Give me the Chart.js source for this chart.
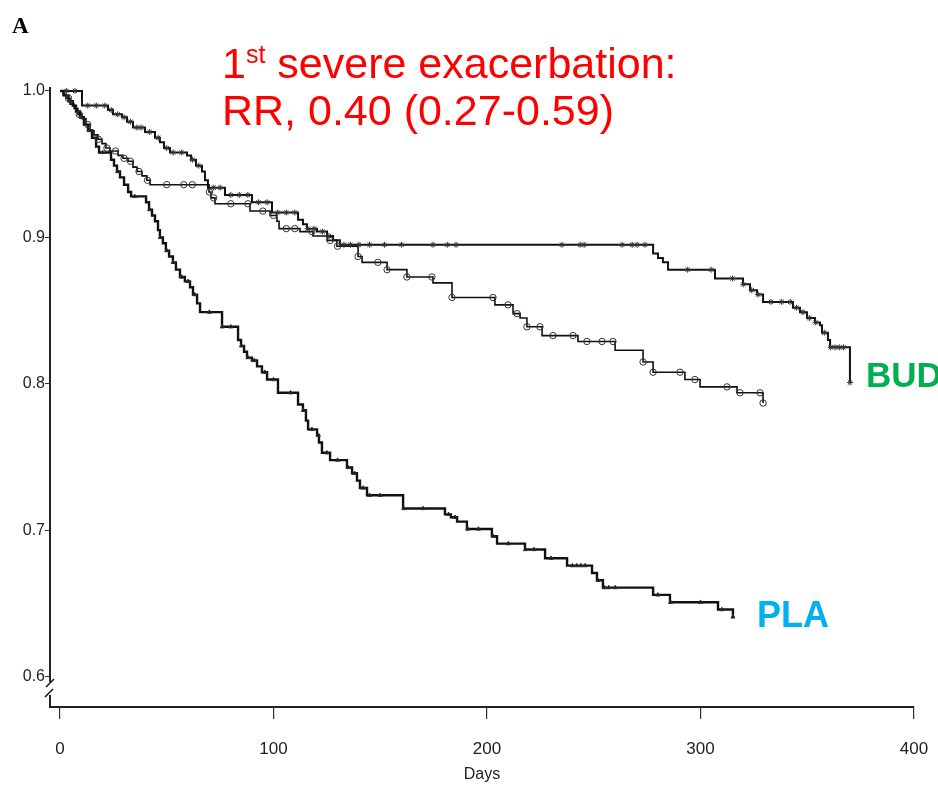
<!DOCTYPE html>
<html>
<head>
<meta charset="utf-8">
<script src="https://cdn.jsdelivr.net/npm/chart.js@4.4.1/dist/chart.umd.min.js"></script>
<style>
  body { margin: 0; background: #fff; }
  #wrap { position: relative; width: 938px; height: 786px; }
  .note { position: absolute; white-space: nowrap; font-family: "Liberation Sans", Arial, sans-serif; }
  .red { color: #ff0000; font-size: 43px; line-height: 49px; }
  .red sup { font-size: 25px; vertical-align: 15px; line-height: 0; }
  .grp { font-weight: bold; }
</style>
</head>
<body>
<div id="wrap">
  <canvas id="km" width="938" height="786"></canvas>
  <div class="note" style="left:12px; top:14px; font-family:'Liberation Serif',serif; font-weight:bold; font-size:23px; line-height:23px;">A</div>
  <div class="note red" style="left:222px; top:39px;">1<sup>st</sup> severe exacerbation:</div>
  <div class="note red" style="left:222px; top:86px;">RR, 0.40 (0.27-0.59)</div>
  <div class="note grp" style="left:866px; top:357px; font-size:35px; line-height:35px; color:#00b050;">BUD</div>
  <div class="note grp" style="left:757px; top:597px; font-size:36px; line-height:36px; color:#00b0f0;">PLA</div>
</div>
<script>
// tick values
const xTicks = [0, 100, 200, 300, 400];
const yTicks = [0.6, 0.7, 0.8, 0.9, 1.0];

// BUD (stars): day of each event and survival after it
const budStarDays = [10.3, 22.5, 24.8, 29.0, 31.4, 34.2, 39.8, 44.5, 46.8, 48.7, 51.5, 59.5, 61.4, 63.7, 66.5, 67.9, 69.3, 77.3, 89.9, 99.3, 111.5, 113.8, 115.7, 120.4, 125.1, 127.9, 131.1, 277.8, 280.1, 282.4, 284.8, 306.8, 319.9, 323.2, 326.5, 329.3, 343.3, 346.6, 349.9, 353.6, 356.0, 356.9, 359.7, 360.7, 370.0];
const budStarSurv = [0.990, 0.987, 0.984, 0.982, 0.979, 0.975, 0.972, 0.968, 0.965, 0.961, 0.958, 0.956, 0.953, 0.949, 0.945, 0.939, 0.934, 0.929, 0.924, 0.917, 0.912, 0.909, 0.906, 0.904, 0.901, 0.898, 0.895, 0.889, 0.886, 0.883, 0.878, 0.872, 0.868, 0.864, 0.861, 0.856, 0.852, 0.849, 0.845, 0.842, 0.840, 0.835, 0.830, 0.825, 0.801];
const budStarCens = [3, 7, 13, 17, 21, 24, 27, 30, 33, 36, 38, 42, 46, 50, 53, 57, 62, 65, 72, 75, 80, 84, 88, 93, 97, 102, 106, 110, 116, 119, 123, 126, 133, 136, 140, 145, 152, 160, 174.7, 181.4, 185.5, 235.1, 243.6, 245.5, 263.3, 268.0, 270.3, 274.0, 294, 305, 315, 320, 324, 327, 333, 338, 342, 345, 348, 351, 354, 358, 361, 363, 365, 367, 370];

// BUD (circles)
const budCircDays = [1.4, 2.8, 4.7, 6.6, 8.4, 10.3, 12.2, 14.1, 15.9, 17.8, 19.7, 21.5, 23.4, 27.2, 29.5, 31.9, 34.2, 36.1, 38.4, 40.7, 42.2, 69.8, 70.7, 72.6, 89.0, 98.4, 101.6, 102.6, 112.4, 118.5, 125.1, 129.7, 139.6, 141.5, 153.2, 162.5, 174.7, 183.6, 203.7, 212.2, 215.5, 218.7, 225.8, 242.6, 260.0, 273.1, 277.8, 292.7, 299.8, 317.1, 329.3];
const budCircSurv = [0.997, 0.995, 0.991, 0.988, 0.984, 0.981, 0.977, 0.973, 0.970, 0.967, 0.964, 0.961, 0.959, 0.956, 0.954, 0.952, 0.948, 0.945, 0.942, 0.939, 0.936, 0.931, 0.927, 0.923, 0.918, 0.915, 0.911, 0.906, 0.904, 0.901, 0.898, 0.894, 0.887, 0.883, 0.878, 0.873, 0.869, 0.859, 0.854, 0.848, 0.845, 0.839, 0.833, 0.829, 0.823, 0.815, 0.808, 0.803, 0.798, 0.794, 0.787];
const budCircCens = [4, 9, 13, 18, 22, 26, 30, 33, 37, 41, 50, 58, 62, 70, 72, 80, 88, 95, 100, 106, 110, 118, 126.5, 130, 139.6, 148.9, 153.2, 162.5, 174.2, 183.6, 202.8, 209.8, 214.1, 218.7, 224.8, 230.9, 240.3, 246.8, 253.9, 259.0, 273.1, 277.8, 290.4, 297.4, 312.4, 318.5, 327.9, 329.3];

// PLA
const plaDays = [2, 4, 6, 7.5, 9.4, 11.2, 13.1, 15.0, 16.9, 18.3, 23.9, 25.3, 26.7, 28.1, 30.0, 31.9, 33.3, 40.3, 41.7, 43.1, 44.5, 45.9, 46.8, 48.2, 49.6, 51.1, 52.9, 54.3, 56.2, 58.5, 60.9, 62.3, 64.2, 65.6, 75.9, 83.4, 84.8, 86.2, 87.6, 89.9, 92.3, 94.6, 97.0, 102.1, 111.5, 113.8, 115.2, 116.2, 120.4, 121.3, 122.7, 126.5, 134.4, 136.8, 139.1, 140.5, 143.8, 160.7, 180.3, 183.1, 186.0, 190.6, 202.3, 204.7, 217.8, 227.2, 237.5, 249.2, 251.5, 254.3, 277.8, 285.7, 308.2, 315.2];
const plaSurv = [0.997, 0.993, 0.990, 0.986, 0.982, 0.977, 0.973, 0.968, 0.962, 0.958, 0.953, 0.949, 0.945, 0.941, 0.936, 0.931, 0.928, 0.924, 0.919, 0.915, 0.911, 0.905, 0.900, 0.896, 0.891, 0.887, 0.883, 0.878, 0.873, 0.870, 0.866, 0.861, 0.855, 0.849, 0.839, 0.830, 0.826, 0.822, 0.818, 0.816, 0.812, 0.808, 0.803, 0.794, 0.786, 0.782, 0.775, 0.769, 0.765, 0.760, 0.753, 0.748, 0.743, 0.739, 0.734, 0.729, 0.724, 0.715, 0.711, 0.709, 0.706, 0.701, 0.696, 0.691, 0.687, 0.681, 0.676, 0.671, 0.666, 0.661, 0.656, 0.651, 0.646, 0.641];
const plaCens = [5, 10, 14, 20, 27, 35, 42, 47, 50, 53, 57, 60, 63, 70, 76, 80, 85, 88, 91, 96, 100, 108, 114, 118, 121, 125, 130, 135, 138, 142, 145, 150, 161, 170, 182, 185, 191, 196, 203, 210, 218, 222, 230, 240, 242, 244, 246, 252, 255, 257, 260, 280, 286, 300, 310, 315.2];

function curve(days, surv) {
  const pts = [{x: 0, y: 1}];
  days.forEach((d, i) => pts.push({x: d, y: surv[i]}));
  return pts;
}
function survAt(days, surv, t) {
  let s = 1;
  days.forEach((d, i) => { if (d <= t) s = surv[i]; });
  return s;
}
function marks(cens, days, surv) {
  return cens.map(t => ({x: t, y: survAt(days, surv, t)}));
}

const axisBreak = {
  id: 'axisBreak',
  afterDraw(chart) {
    const ctx = chart.ctx;
    const x = chart.chartArea.left;
    const y = chart.scales.y.getPixelForValue(0.6);
    ctx.save();
    ctx.fillStyle = '#fff';
    ctx.fillRect(x - 4, y + 5, 8, 13);
    ctx.strokeStyle = '#111';
    ctx.lineWidth = 1.5;
    ctx.beginPath();
    ctx.moveTo(x - 4, y + 10); ctx.lineTo(x + 4, y + 2);
    ctx.moveTo(x - 5, y + 20); ctx.lineTo(x + 3, y + 12);
    ctx.stroke();
    ctx.restore();
  }
};

// step drawn horizontally first, then down at the event day
const lineDs = (data, w) => ({
  type: 'line', data, stepped: 'before', borderColor: '#111', borderWidth: w,
  pointRadius: 0, fill: false, order: 2
});
const markDs = (data, style, r, bg) => ({
  type: 'scatter', data, showLine: false, pointStyle: style, pointRadius: r,
  borderColor: '#333', backgroundColor: bg, borderWidth: 1, order: 1
});

new Chart(document.getElementById('km'), {
  data: {
    datasets: [
      lineDs(curve(budStarDays, budStarSurv), 2),
      lineDs(curve(budCircDays, budCircSurv), 1.6),
      lineDs(curve(plaDays, plaSurv), 2.4),
      markDs(marks(budStarCens, budStarDays, budStarSurv), 'star', 3, '#333'),
      markDs(marks(budCircCens, budCircDays, budCircSurv), 'circle', 3.2, 'rgba(0,0,0,0)'),
      markDs(marks(plaCens, plaDays, plaSurv), 'triangle', 2.3, '#111')
    ]
  },
  options: {
    responsive: false,
    animation: false,
    layout: { padding: { top: 88, right: 24, left: 0, bottom: 0 } },
    plugins: { legend: { display: false }, tooltip: { enabled: false } },
    scales: {
      x: {
        type: 'linear', min: -4.68, max: 400,
        afterBuildTicks: s => { s.ticks = xTicks.map(v => ({value: v})); },
        afterFit: s => { s.height = 79; s.paddingLeft = 0; s.paddingRight = 0; },
        grid: { drawOnChartArea: false, drawTicks: true, tickLength: 12, color: '#333', lineWidth: 1.2 },
        border: { display: true, color: '#222', width: 2 },
        ticks: { color: '#222', padding: 20, font: { family: 'Liberation Sans', size: 17 } },
        title: { display: true, text: 'Days', color: '#222', padding: { top: 0, bottom: 2 }, font: { family: 'Liberation Sans', size: 16 } }
      },
      y: {
        type: 'linear', min: 0.5795, max: 1.002,
        afterBuildTicks: s => { s.ticks = yTicks.map(v => ({value: v})); },
        afterFit: s => { s.width = 50; s.paddingTop = 0; s.paddingBottom = 0; },
        grid: { drawOnChartArea: false, drawTicks: true, tickLength: 5, color: '#333' },
        border: { display: true, color: '#222', width: 2 },
        ticks: { color: '#222', padding: 0, callback: v => v.toFixed(1), font: { family: 'Liberation Sans', size: 16 } }
      }
    }
  },
  plugins: [axisBreak]
});
</script>
</body>
</html>
